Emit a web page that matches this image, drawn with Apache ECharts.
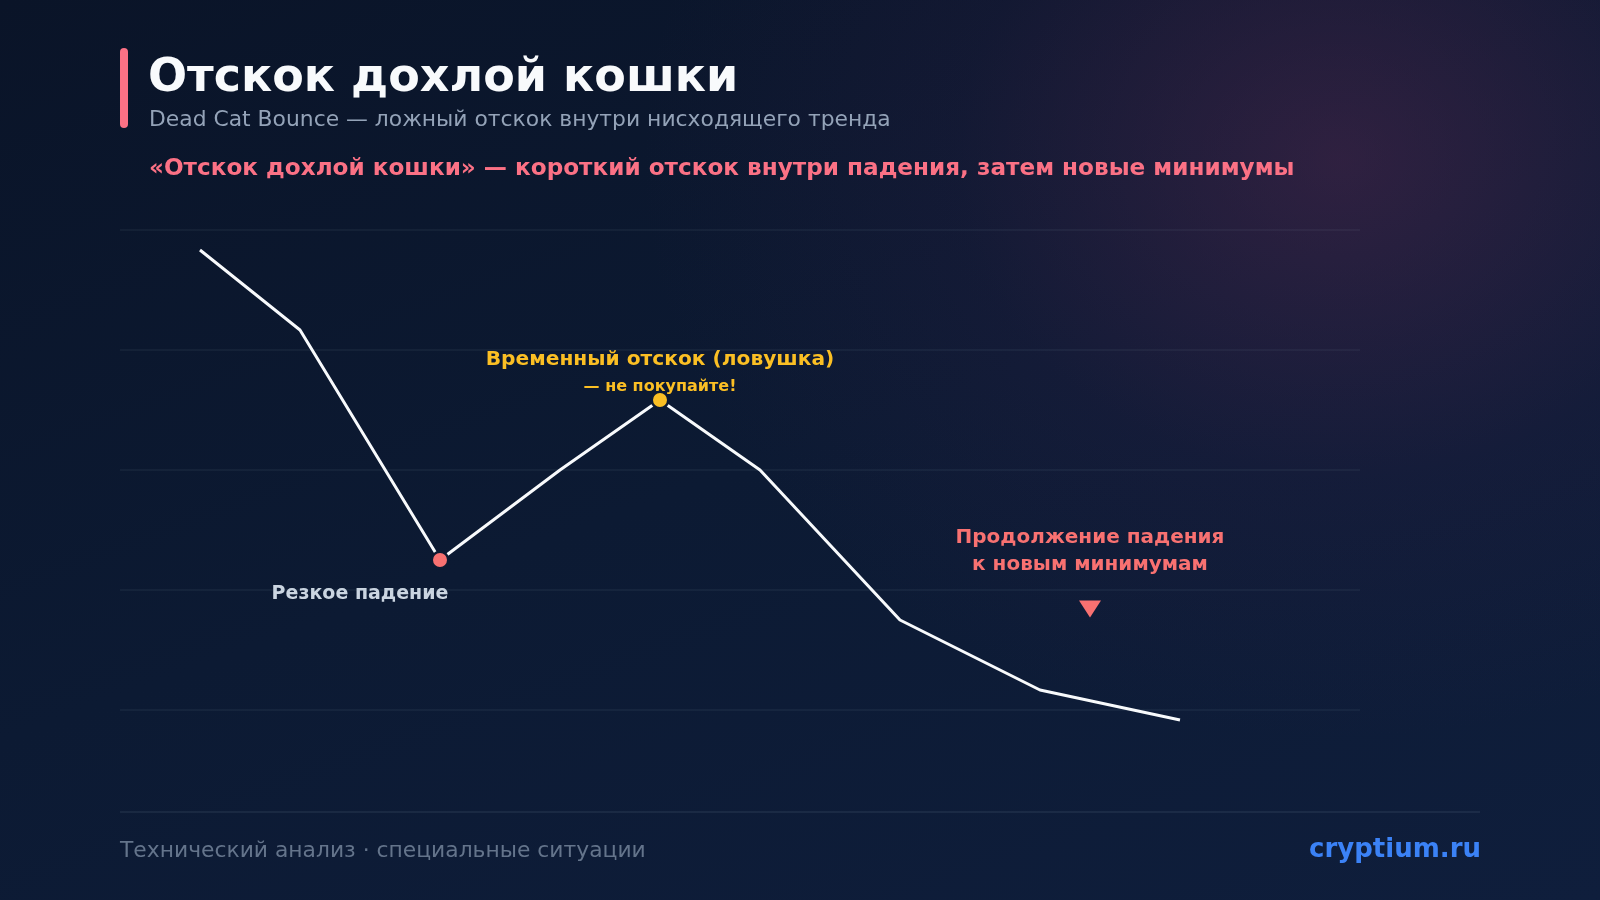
<!DOCTYPE html>
<html>
<head>
<meta charset="utf-8">
<script src="https://cdn.jsdelivr.net/npm/echarts@6/dist/echarts.min.js"></script>
<style>
html,body{margin:0;padding:0;width:1600px;height:900px;overflow:hidden;}
#bg{position:absolute;left:0;top:0;width:1600px;height:900px;
background:
radial-gradient(ellipse 700px 580px at 1340px 160px, rgba(110,45,90,0.36), rgba(75,35,85,0.12) 55%, rgba(0,0,0,0) 100%),
linear-gradient(160deg, #0a1428 0%, #0c1a33 50%, #0f1e3c 100%);}
#chart{position:absolute;left:0;top:0;width:1600px;height:900px;}
</style>
</head>
<body>
<div id="bg"></div>
<div id="chart"></div>
<script>
// Price path (x: time step, y: price)
const xValues = [8, 18, 32, 44, 54, 64, 78, 92, 106];
const yValues = [58, 50, 27, 36, 43, 36, 21, 14, 11];
const crashPoint = [32, 27];
const bouncePoint = [54, 43];
const downMarker = [97, 22.1];
const yTicks = {min: 0, max: 60, interval: 12};

const FONT = '"DejaVu Sans", sans-serif';
const BG = '#0d1a32';
const chart = echarts.init(document.getElementById('chart'), null, {renderer: 'canvas'});

const linePts = xValues.map((x, i) => [x, yValues[i]]);

chart.setOption({
  backgroundColor: 'transparent',
  animation: false,
  grid: {left: 120, right: 240, top: 230, bottom: 70},
  xAxis: {type: 'value', min: 0, max: 124, show: false},
  yAxis: {
    type: 'value', min: yTicks.min, max: yTicks.max, interval: yTicks.interval,
    axisLine: {show: false}, axisTick: {show: false}, axisLabel: {show: false},
    splitLine: {show: true, showMinLine: false, lineStyle: {color: 'rgba(148,163,184,0.07)', width: 2}}
  },
  series: [
    {
      type: 'line', data: linePts, symbol: 'none',
      lineStyle: {color: '#f8fafc', width: 3}, z: 2
    },
    {
      type: 'scatter', data: [crashPoint], symbol: 'circle', symbolSize: 16.5,
      itemStyle: {color: '#f87171', opacity: 1, borderColor: BG, borderWidth: 2.5}, z: 3
    },
    {
      type: 'scatter', data: [bouncePoint], symbol: 'circle', symbolSize: 16.5,
      itemStyle: {color: '#fbbf24', opacity: 1, borderColor: BG, borderWidth: 2.5}, z: 3
    },
    {
      type: 'scatter', data: [downMarker], symbol: 'triangle', symbolRotate: 180,
      symbolSize: [22, 17], itemStyle: {color: '#f87171', opacity: 1}, z: 3
    }
  ],
  graphic: [
    {type: 'rect', shape: {x: 120, y: 48, width: 8, height: 80, r: 4}, style: {fill: '#fb7185'}},
    {type: 'text', x: 148, y: 79, style: {text: 'Отскок дохлой кошки', font: 'bold 46px ' + FONT, fill: '#f8fafc', textVerticalAlign: 'middle'}},
    {type: 'text', x: 149, y: 120, style: {text: 'Dead Cat Bounce — ложный отскок внутри нисходящего тренда', font: '21.85px ' + FONT, fill: '#94a3b8', textVerticalAlign: 'middle'}},
    {type: 'text', x: 149, y: 169, style: {text: '«Отскок дохлой кошки» — короткий отскок внутри падения, затем новые минимумы', font: 'bold 23.15px ' + FONT, fill: '#fb7185', textVerticalAlign: 'middle'}},
    {type: 'text', x: 660, y: 360, style: {text: 'Временный отскок (ловушка)', font: 'bold 20.2px ' + FONT, fill: '#fbbf24', textAlign: 'center', textVerticalAlign: 'middle'}},
    {type: 'text', x: 660, y: 387, style: {text: '— не покупайте!', font: 'bold 16px ' + FONT, fill: '#fbbf24', textAlign: 'center', textVerticalAlign: 'middle'}},
    {type: 'text', x: 360, y: 594, style: {text: 'Резкое падение', font: 'bold 19px ' + FONT, fill: '#cbd5e1', textAlign: 'center', textVerticalAlign: 'middle'}},
    {type: 'text', x: 1090, y: 538, style: {text: 'Продолжение падения', font: 'bold 20px ' + FONT, fill: '#f87171', textAlign: 'center', textVerticalAlign: 'middle'}},
    {type: 'text', x: 1090, y: 565, style: {text: 'к новым минимумам', font: 'bold 20px ' + FONT, fill: '#f87171', textAlign: 'center', textVerticalAlign: 'middle'}},
    {type: 'line', shape: {x1: 120, y1: 812, x2: 1480, y2: 812}, style: {stroke: 'rgba(148,163,184,0.1)', lineWidth: 2}},
    {type: 'text', x: 120, y: 851, style: {text: 'Технический анализ · специальные ситуации', font: '21.83px ' + FONT, fill: '#64748b', textVerticalAlign: 'middle'}},
    {type: 'text', x: 1481, y: 850, style: {text: 'cryptium.ru', font: 'bold 26px ' + FONT, fill: '#3b82f6', textAlign: 'right', textVerticalAlign: 'middle'}}
  ]
});
</script>
</body>
</html>
